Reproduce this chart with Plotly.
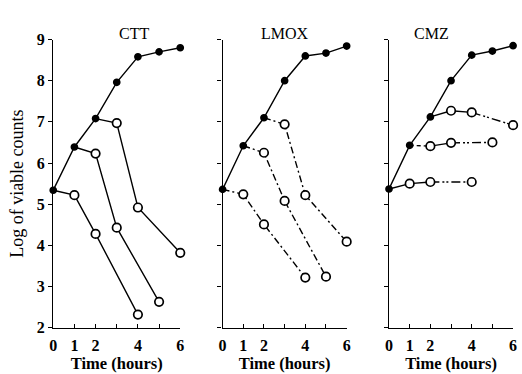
import plotly.graph_objects as go

# Viable counts (log10) over time for three antibiotics
hours = [0, 1, 2, 3, 4, 5, 6]

ctt_control = [5.34, 6.39, 7.08, 7.96, 8.58, 8.70, 8.80]
ctt_add0_x = [0, 1, 2, 4]
ctt_add0_y = [5.34, 5.22, 4.28, 2.32]
ctt_add1_x = [1, 2, 3, 5]
ctt_add1_y = [6.39, 6.23, 4.43, 2.63]
ctt_add2_x = [2, 3, 4, 6]
ctt_add2_y = [7.08, 6.97, 4.92, 3.82]

lmox_control = [5.36, 6.42, 7.10, 8.00, 8.60, 8.67, 8.84]
lmox_add0_x = [0, 1, 2, 4]
lmox_add0_y = [5.36, 5.24, 4.51, 3.22]
lmox_add1_x = [1, 2, 3, 5]
lmox_add1_y = [6.42, 6.25, 5.08, 3.24]
lmox_add2_x = [2, 3, 4, 6]
lmox_add2_y = [7.10, 6.94, 5.22, 4.09]

cmz_control = [5.37, 6.43, 7.12, 8.00, 8.62, 8.72, 8.85]
cmz_add0_x = [0, 1, 2, 4]
cmz_add0_y = [5.37, 5.50, 5.54, 5.54]
cmz_add1_x = [1, 2, 3, 5]
cmz_add1_y = [6.43, 6.41, 6.49, 6.50]
cmz_add2_x = [2, 3, 4, 6]
cmz_add2_y = [7.12, 7.27, 7.23, 6.92]

titles = ["CTT", "LMOX", "CMZ"]
x_ticks = [0, 1, 2, 3, 4, 5, 6]
x_ticktext = ["0", "1", "2", "", "4", "", "6"]
y_ticks = [2, 3, 4, 5, 6, 7, 8, 9]

W, H = 522, 374
SERIF = "Liberation Serif"
DASHDOT = "7px,3px,2px,3px"
DASHDOTDOT = "9px,3px,2px,2px,2px,3px"

fig = go.Figure()

# panel pixel geometry
panels_px = [(50, 179), (222, 348), (391, 517)]
y_top_px, y_bot_px = 33, 335


def add_line(xs, ys, axis, dash="solid"):
    fig.add_trace(go.Scatter(
        x=xs, y=ys, mode="lines", xaxis=axis[0], yaxis=axis[1],
        line=dict(color="black", width=1.4, dash=dash),
        cliponaxis=False, showlegend=False, hoverinfo="skip"))


def add_markers(xs, ys, axis, filled):
    fig.add_trace(go.Scatter(
        x=xs, y=ys, mode="markers", xaxis=axis[0], yaxis=axis[1],
        marker=dict(symbol="circle", size=6 if filled else 8.5,
                    color="black" if filled else "white",
                    line=dict(color="black", width=1.7)),
        cliponaxis=False, showlegend=False))


def segments(xs, ys, axis, dashes):
    for i, d in enumerate(dashes):
        add_line(xs[i:i + 2], ys[i:i + 2], axis, d)


axes = [("x", "y"), ("x2", "y2"), ("x3", "y3")]

# CTT: all solid lines
a = axes[0]
add_line(hours, ctt_control, a)
for xs, ys in [(ctt_add0_x, ctt_add0_y), (ctt_add1_x, ctt_add1_y), (ctt_add2_x, ctt_add2_y)]:
    add_line(xs, ys, a)
    add_markers(xs[1:], ys[1:], a, False)
add_markers(hours, ctt_control, a, True)

# LMOX: dash-dot treated curves
a = axes[1]
add_line(hours, lmox_control, a)
for xs, ys in [(lmox_add0_x, lmox_add0_y), (lmox_add1_x, lmox_add1_y), (lmox_add2_x, lmox_add2_y)]:
    add_line(xs, ys, a, DASHDOT)
    add_markers(xs[1:], ys[1:], a, False)
add_markers(hours, lmox_control, a, True)

# CMZ: solid segments with dash-dot-dot gaps
a = axes[2]
add_line(hours, cmz_control, a)
segments(cmz_add0_x, cmz_add0_y, a, ["solid", "solid", DASHDOTDOT])
segments(cmz_add1_x, cmz_add1_y, a, ["4px,3px", "solid", DASHDOTDOT])
segments(cmz_add2_x, cmz_add2_y, a, ["solid", "solid", DASHDOTDOT])
for xs, ys in [(cmz_add0_x, cmz_add0_y), (cmz_add1_x, cmz_add1_y), (cmz_add2_x, cmz_add2_y)]:
    add_markers(xs[1:], ys[1:], a, False)
add_markers(hours, cmz_control, a, True)

layout = dict(
    width=W, height=H, margin=dict(l=0, r=0, t=0, b=0),
    paper_bgcolor="white", plot_bgcolor="white",
    font=dict(family=SERIF, color="black"),
    showlegend=False,
)
ydom = [(H - y_bot_px) / H, (H - y_top_px) / H]
annotations = []
for i, (x0, x1) in enumerate(panels_px):
    sx = "" if i == 0 else str(i + 1)
    layout["xaxis" + sx] = dict(
        domain=[x0 / W, x1 / W], range=[0, 6], anchor="y" + sx,
        showline=True, linecolor="black", linewidth=1.4, mirror=False,
        showgrid=False, zeroline=False,
        tickvals=x_ticks, ticktext=x_ticktext, ticks="inside",
        ticklen=4, tickwidth=1, tickcolor="black", ticklabelstandoff=3,
        tickfont=dict(family=SERIF, size=16, color="black", weight="bold"),
        title=dict(text="Time (hours)", standoff=3,
                   font=dict(family=SERIF, size=16.5, color="black", weight="bold")),
    )
    layout["yaxis" + sx] = dict(
        domain=ydom, range=[2, 9], anchor="x" + sx,
        showline=True, linecolor="black", linewidth=1.4,
        showgrid=False, zeroline=False,
        tickvals=y_ticks, ticks="outside", ticklen=4, tickwidth=1,
        tickcolor="black", showticklabels=(i == 0),
        tickfont=dict(family=SERIF, size=16, color="black", weight="bold"),
    )
    annotations.append(dict(
        text=titles[i], x=(x0 + x1) / 2 / W, y=(H - 16) / H,
        xref="paper", yref="paper", showarrow=False,
        font=dict(family=SERIF, size=16, color="black")))

layout["yaxis"]["title"] = dict(text="Log of viable counts", standoff=8,
                                font=dict(family=SERIF, size=18, color="black"))
layout["annotations"] = annotations
fig.update_layout(**layout)

fig.write_html("out.html")
